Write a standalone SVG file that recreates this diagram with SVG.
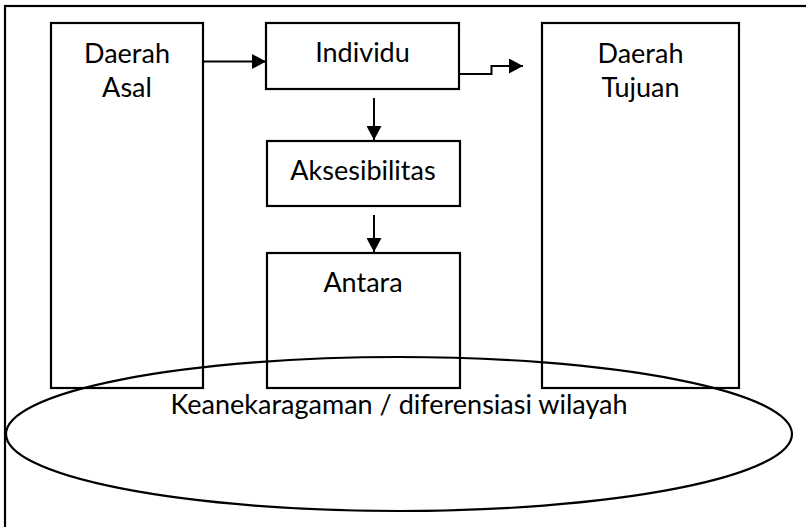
<svg xmlns="http://www.w3.org/2000/svg" width="806" height="527" viewBox="0 0 806 527">
  <style>
    .box { fill: none; stroke: #000; stroke-width: 2.2; }
    .frame { fill: none; stroke: #000; stroke-width: 2.2; }
    .link { fill: none; stroke: #000; stroke-width: 2; }
    .label { font-family: Lato, "Liberation Sans", sans-serif; font-size: 27px; fill: #000; text-anchor: middle; }
  </style>
  <defs>
    <marker id="arrow" markerUnits="userSpaceOnUse" markerWidth="15" markerHeight="15" refX="14" refY="7.5" orient="auto">
      <path d="M0,0 L14,7.5 L0,15 Z" fill="#000"/>
    </marker>
  </defs>

  <rect width="806" height="527" fill="#fff"/>

  <!-- outer frame, running past the right and bottom edges -->
  <rect class="frame" x="5" y="6" width="860" height="600"/>

  <g id="daerah-asal">
    <rect class="box" x="51" y="23" width="152" height="365"/>
    <text class="label" x="127" y="63">Daerah</text>
    <text class="label" x="127" y="97">Asal</text>
  </g>

  <g id="individu">
    <rect class="box" x="266" y="23" width="193" height="66"/>
    <text class="label" x="362.5" y="62">Individu</text>
  </g>

  <g id="aksesibilitas">
    <rect class="box" x="267" y="141" width="193" height="65"/>
    <text class="label" x="363" y="180">Aksesibilitas</text>
  </g>

  <g id="antara">
    <rect class="box" x="267" y="253" width="193" height="135"/>
    <text class="label" x="363" y="292">Antara</text>
  </g>

  <g id="daerah-tujuan">
    <rect class="box" x="542" y="23" width="197" height="365"/>
    <text class="label" x="640.5" y="63">Daerah</text>
    <text class="label" x="640.5" y="97">Tujuan</text>
  </g>

  <g id="wilayah">
    <ellipse class="box" cx="399" cy="434" rx="393" ry="77"/>
    <text class="label" x="399" y="414">Keanekaragaman / diferensiasi wilayah</text>
  </g>

  <g id="connectors">
    <path class="link" d="M203,61.5 H266" marker-end="url(#arrow)"/>
    <path class="link" d="M459,74 H491.5 V66 H523" marker-end="url(#arrow)"/>
    <path class="link" d="M374,98 V140" marker-end="url(#arrow)"/>
    <path class="link" d="M374,215 V252" marker-end="url(#arrow)"/>
  </g>
</svg>
